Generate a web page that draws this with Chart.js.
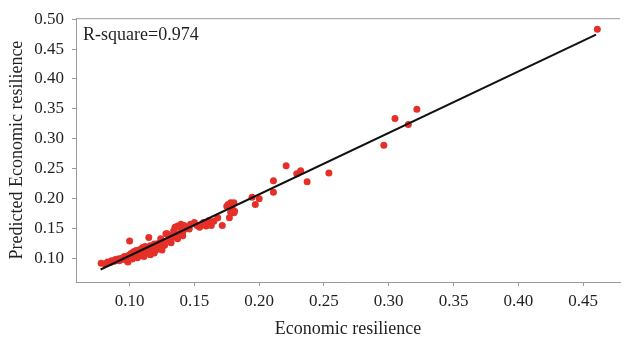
<!DOCTYPE html>
<html>
<head>
<meta charset="utf-8">
<script src="https://cdn.jsdelivr.net/npm/chart.js@4"></script>
<style>
  html, body { margin: 0; padding: 0; background: #fff; }
  canvas { display: block; }
</style>
</head>
<body>
<canvas id="chart" width="624" height="340"></canvas>
<script>
// observed economic resilience (x) and predicted value (y)
const actual = [
  0.078, 0.081, 0.083, 0.085, 0.086, 0.088, 0.089, 0.090, 0.091, 0.092,
  0.093, 0.094, 0.095, 0.096, 0.097, 0.0975, 0.0987, 0.099, 0.100, 0.100,
  0.101, 0.102, 0.103, 0.104, 0.105, 0.105, 0.106, 0.107, 0.108, 0.108,
  0.109, 0.110, 0.110, 0.111, 0.112, 0.112, 0.113, 0.114, 0.1148, 0.115,
  0.116, 0.116, 0.117, 0.118, 0.119, 0.119, 0.120, 0.121, 0.122, 0.123,
  0.124, 0.125, 0.126, 0.127, 0.128, 0.129, 0.130, 0.131, 0.132, 0.133,
  0.134, 0.135, 0.136, 0.137, 0.137, 0.139, 0.140, 0.1396, 0.141, 0.141,
  0.142, 0.144, 0.146, 0.147, 0.150, 0.152, 0.154, 0.156, 0.157, 0.159,
  0.161, 0.163, 0.165, 0.168, 0.1715, 0.175, 0.176, 0.177, 0.178, 0.178,
  0.179, 0.1805, 0.181, 0.1805, 0.1945, 0.197, 0.200, 0.211, 0.211, 0.2208,
  0.229, 0.232, 0.237, 0.2538, 0.2962, 0.3048, 0.3151, 0.3217, 0.461
];
const predicted = [
  0.092, 0.091, 0.094, 0.093, 0.096, 0.095, 0.098, 0.097, 0.099, 0.096,
  0.100, 0.098, 0.101, 0.103, 0.100, 0.097, 0.094, 0.105, 0.129, 0.102,
  0.108, 0.099, 0.111, 0.104, 0.113, 0.107, 0.101, 0.110, 0.115, 0.105,
  0.112, 0.118, 0.108, 0.103, 0.114, 0.120, 0.109, 0.117, 0.135, 0.112,
  0.121, 0.106, 0.118, 0.113, 0.124, 0.109, 0.119, 0.115, 0.125, 0.120,
  0.133, 0.114, 0.127, 0.122, 0.141, 0.141, 0.131, 0.138, 0.126, 0.135,
  0.146, 0.152, 0.139, 0.133, 0.154, 0.143, 0.149, 0.157, 0.144, 0.138,
  0.155, 0.150, 0.149, 0.157, 0.160, 0.155, 0.152, 0.157, 0.160, 0.154,
  0.163, 0.155, 0.162, 0.168, 0.155, 0.187, 0.190, 0.168, 0.193, 0.177,
  0.185, 0.193, 0.179, 0.1765, 0.2023, 0.190, 0.1995, 0.2105, 0.2298, 0.255,
  0.2413, 0.2467, 0.228, 0.2429, 0.289, 0.3339, 0.324, 0.3492, 0.483
];

// fitted line end points
const fitX = [0.0776, 0.460];
const fitY = [0.0814, 0.474];

const xTicks = [0.10, 0.15, 0.20, 0.25, 0.30, 0.35, 0.40, 0.45];
const yTicks = [0.10, 0.15, 0.20, 0.25, 0.30, 0.35, 0.40, 0.45, 0.50];
const rSquareLabel = 'R-square=0.974';

const serif = "'Liberation Serif', 'DejaVu Serif', serif";
const axisGrey = '#9a9a9a';
const textColor = '#231f20';

const scatterPoints = actual.map((x, i) => ({ x: x, y: predicted[i] }));
const fitPoints = fitX.map((x, i) => ({ x: x, y: fitY[i] }));

// top frame line + R-square note
const extras = {
  id: 'extras',
  afterDraw(chart) {
    const ctx = chart.ctx;
    const area = chart.chartArea;
    ctx.save();
    ctx.strokeStyle = axisGrey;
    ctx.lineWidth = 1;
    ctx.beginPath();
    ctx.moveTo(area.left, area.top + 0.5);
    ctx.lineTo(area.right, area.top + 0.5);
    ctx.stroke();
    ctx.fillStyle = textColor;
    ctx.font = "18px " + serif;
    ctx.textBaseline = 'middle';
    ctx.fillText(rSquareLabel, area.left + 7, area.top + 17);
    ctx.restore();
  }
};

new Chart(document.getElementById('chart'), {
  type: 'scatter',
  data: {
    datasets: [
      {
        type: 'line',
        data: fitPoints,
        borderColor: '#111',
        borderWidth: 2,
        pointRadius: 0,
        fill: false,
        order: 0
      },
      {
        data: scatterPoints,
        backgroundColor: '#e5302a',
        borderWidth: 0,
        pointRadius: 3.5,
        order: 1
      }
    ]
  },
  options: {
    responsive: false,
    animation: false,
    devicePixelRatio: 1,
    layout: { padding: { top: 14, right: 0, bottom: 0, left: 0 } },
    plugins: {
      legend: { display: false },
      tooltip: { enabled: false }
    },
    scales: {
      x: {
        type: 'linear',
        min: 0.0586,
        max: 0.4785,
        afterBuildTicks: s => { s.ticks = xTicks.map(v => ({ value: v })); },
        afterFit: s => { s.height = 58; },
        grid: { drawOnChartArea: false, tickLength: 4, color: axisGrey },
        border: { color: axisGrey, width: 1 },
        ticks: {
          padding: 5,
          color: textColor,
          font: { family: serif, size: 17 },
          callback: v => v.toFixed(2),
          maxRotation: 0
        },
        title: {
          display: true,
          text: 'Economic resilience',
          color: textColor,
          font: { family: serif, size: 18 },
          padding: { top: 0, bottom: 0 }
        }
      },
      y: {
        type: 'linear',
        min: 0.0605,
        max: 0.5016,
        afterBuildTicks: s => { s.ticks = yTicks.map(v => ({ value: v })); },
        afterFit: s => { s.width = 76; },
        grid: { drawOnChartArea: false, tickLength: 4, color: axisGrey },
        border: { color: axisGrey, width: 1 },
        ticks: {
          padding: 8,
          color: textColor,
          font: { family: serif, size: 17 },
          callback: v => v.toFixed(2)
        },
        title: {
          display: true,
          text: 'Predicted Economic resilience',
          color: textColor,
          font: { family: serif, size: 18 },
          padding: { top: 6, bottom: 0 }
        }
      }
    }
  },
  plugins: [extras]
});
</script>
</body>
</html>
